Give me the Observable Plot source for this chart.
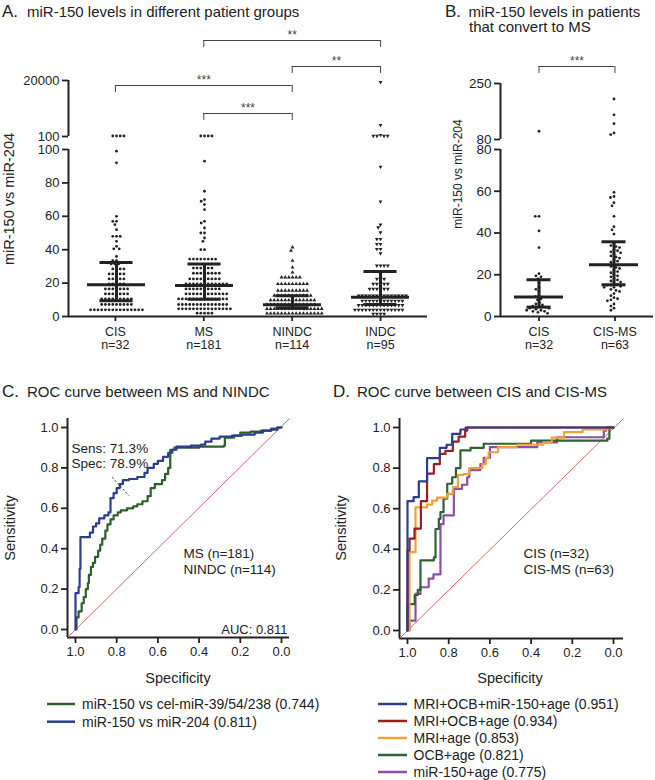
<!DOCTYPE html>
<html><head><meta charset="utf-8">
<script src="https://cdn.jsdelivr.net/npm/d3@7"></script>
<script src="https://cdn.jsdelivr.net/npm/@observablehq/plot@0.6"></script>
<style>
body{margin:0;background:#fff;}
#root{position:relative;width:655px;height:780px;overflow:hidden;background:#fff;}
g[aria-label="y-axis tick"] path, g[aria-label="x-axis tick"] path{stroke-width:1.8px;}
</style></head><body><div id="root"></div>
<script>
// ---------------- DATA ----------------
// Panel A
const groupsA = ["CIS", "MS", "NINDC", "INDC"];
const nA = [32, 181, 114, 95];
const cisA = [99, 92, 60, 57, 57, 55, 52, 48, 48, 48, 45, 42, 40.5, 40.5, 36, 33.5, 33.5, 31.5, 31.5, 31.5,
  28.5, 28.5, 28.5, 28.5, 25.5, 25.5, 25.5, 25.5, 25.5, 22.5, 22.5, 22.5, 22.5, 22.5, 19.5, 19.5, 19.5, 19.5, 19.5,
  16.5, 16.5, 16.5, 16.5, 16.5, 16.5, 16.5, 13.5, 13.5, 13.5, 13.5, 13.5, 13.5, 13.5,
  10.5, 10.5, 10.5, 10.5, 10.5, 10.5, 10.5, 10.5, 10.5, 7.2, 7.2, 7.2, 7.2, 7.2, 7.2, 7.2, 7.2, 7.2,
  4, 4, 4, 4, 4, 4, 4, 4, 4, 4, 4, 4, 4, 4, 4];
const msA = [93, 75, 70, 69, 67, 64, 57, 56, 53, 50, 50, 47, 45, 40, 40,
  34.4, 34.4, 34.4, 34.4, 34.4, 34.4, 34.4, 34.4, 29, 29, 29, 29, 29, 29,
  25.9, 25.9, 25.9, 25.9, 25.9, 25.9, 25.9, 25.9, 22.5, 22.5, 22.5, 22.5, 22.5, 22.5, 22.5, 22.5, 22.5,
  19.5, 19.5, 19.5, 19.5, 19.5, 19.5, 19.5, 19.5, 19.5, 19.5, 19.5, 19.5,
  16.5, 16.5, 16.5, 16.5, 16.5, 16.5, 16.5, 16.5, 16.5, 16.5,
  13.5, 13.5, 13.5, 13.5, 13.5, 13.5, 13.5, 13.5, 13.5, 13.5, 13.5, 13.5,
  10.5, 10.5, 10.5, 10.5, 10.5, 10.5, 10.5, 10.5, 10.5, 10.5, 10.5, 10.5, 10.5, 10.5,
  7.2, 7.2, 7.2, 7.2, 7.2, 7.2, 7.2, 7.2, 7.2, 7.2, 7.2, 7.2, 7.2, 7.2,
  4.6, 4.6, 4.6, 4.6, 4.6, 4.6, 4.6, 4.6, 4.6, 4.6, 4.6, 4.6, 4.6, 4.6, 4.6, 2, 2, 2, 2, 2];
const nindcA = [41.4, 39.4, 33.4, 29.4, 26.4, 23.5, 23.5, 23.5, 23.5, 23.5, 23.5,
  19.5, 19.5, 19.5, 19.5, 19.5, 19.5, 19.5, 19.5, 19.5, 15.5, 15.5, 15.5, 15.5, 15.5, 15.5, 15.5, 15.5, 15.5,
  12.5, 12.5, 12.5, 12.5, 12.5, 12.5, 12.5, 12.5, 12.5, 12.5, 12.5,
  9.8, 9.8, 9.8, 9.8, 9.8, 9.8, 9.8, 9.8, 9.8, 9.8, 9.8, 9.8, 9.8,
  7.2, 7.2, 7.2, 7.2, 7.2, 7.2, 7.2, 7.2, 7.2, 7.2, 7.2, 7.2, 7.2, 7.2,
  4.6, 4.6, 4.6, 4.6, 4.6, 4.6, 4.6, 4.6, 4.6, 4.6, 4.6, 4.6, 4.6, 4.6, 4.6, 4.6,
  1.8, 1.8, 1.8, 1.8, 1.8, 1.8, 1.8, 1.8, 1.8, 1.8, 1.8, 1.8, 1.8, 1.8, 1.8, 1.8];
const indcA = [89.6, 68.8, 55, 53.3, 50.3, 46.4, 46.4, 43.4, 43.4, 40.4, 40.4, 37.8, 30.4, 30.4, 30.4, 30.4, 25.5,
  22.5, 22.5, 22.5, 19.5, 19.5, 19.5, 19.5, 19.5, 16.5, 16.5, 16.5, 16.5, 16.5, 16.5,
  12.5, 12.5, 12.5, 12.5, 12.5, 12.5, 12.5, 12.5, 12.5, 12.5, 12.5, 12.5, 12.5, 12.5,
  9.4, 9.4, 9.4, 9.4, 9.4, 9.4, 9.4, 9.4, 9.4, 9.4, 9.4, 9.4,
  6.8, 6.8, 6.8, 6.8, 6.8, 6.8, 6.8, 6.8, 6.8, 6.8, 6.8, 6.8, 6.8,
  4, 4, 4, 4, 4, 4, 4, 4, 4, 4, 4, 4, 4, 4, 1.6, 1.6, 1.6, 1.6];
const cisAHigh = [105, 105, 105, 105];
const msAHigh = [105, 105, 105, 105];
const nindcAHigh = [];
const indcAHigh = [17000, 290, 115, 105, 105, 105, 105];
const medianA = [19, 18.5, 7, 11.5];
const q1A = [9.5, 10.3, 5.2, 7.2];
const q3A = [32.4, 31.4, 12.5, 27];
const compA = [["CIS", "NINDC", "***"], ["MS", "NINDC", "***"], ["MS", "INDC", "**"], ["NINDC", "INDC", "**"]];
const ticksALow = [0, 20, 40, 60, 80, 100];
const ticksAHigh = [100, 20000];

// Panel B
const groupsB = ["CIS", "CIS-MS"];
const nB = [32, 63];
const cisB = [48, 48, 41, 33, 20.5, 19.5, 19, 18, 16, 14, 13, 12, 10, 9.5, 8.5, 8, 6.5, 6, 5.5, 5, 4.5, 4.5, 4, 4, 3.5, 3, 3, 2.5, 2.5, 2, 1.5];
const cismsB = [59.5, 57.5, 57, 54.5, 53, 48, 43, 41.5, 39.5, 35, 34, 33.5, 33, 32, 31.5, 31, 30.5, 30, 29, 28.5, 28, 27, 26.5, 26, 25, 24, 23.5, 23, 22, 21.5, 21, 20, 19.5, 19, 18, 17.5, 17, 16.5, 16, 15.5, 15, 15, 14.5, 14, 14, 13, 12.5, 12, 11, 10, 9, 8.5, 8, 7.5, 6, 5, 4, 3];
const cisBHigh = [105];
const cismsBHigh = [203, 155, 128, 100, 95];
const medianB = [9.3, 24.8];
const q1B = [4.5, 15.2];
const q3B = [17.6, 35.8];
const compB = [["CIS", "CIS-MS", "***"]];
const ticksBLow = [0, 20, 40, 60, 80];
const ticksBHigh = [80, 250];

// Panel C : ROC points [specificity, sensitivity]
const rocC_cel = [[1.0,0],[0.995,0.06],[0.985,0.09],[0.97,0.13],[0.96,0.16],[0.95,0.2],[0.94,0.23],[0.935,0.27],[0.925,0.31],[0.915,0.33],[0.905,0.36],[0.89,0.39],[0.88,0.42],[0.87,0.45],[0.855,0.49],[0.845,0.52],[0.83,0.545],[0.815,0.565],[0.795,0.58],[0.78,0.59],[0.75,0.60],[0.72,0.61],[0.70,0.62],[0.675,0.635],[0.65,0.66],[0.635,0.70],[0.615,0.72],[0.58,0.74],[0.565,0.77],[0.55,0.80],[0.54,0.89],[0.52,0.90],[0.40,0.905],[0.28,0.91],[0.275,0.95],[0.23,0.96],[0.20,0.975],[0.15,0.98],[0.10,0.985],[0.05,0.995],[0.02,1.0],[0.0,1.0]];
const rocC_204 = [[1.0,0],[1.0,0.18],[0.985,0.21],[0.98,0.30],[0.976,0.457],[0.93,0.48],[0.915,0.51],[0.90,0.525],[0.885,0.55],[0.86,0.565],[0.84,0.58],[0.83,0.65],[0.815,0.675],[0.80,0.70],[0.785,0.72],[0.77,0.74],[0.74,0.745],[0.70,0.755],[0.665,0.775],[0.65,0.80],[0.62,0.82],[0.60,0.835],[0.575,0.855],[0.55,0.875],[0.53,0.89],[0.51,0.905],[0.44,0.91],[0.39,0.915],[0.37,0.93],[0.34,0.945],[0.30,0.955],[0.24,0.96],[0.19,0.965],[0.13,0.975],[0.09,0.985],[0.05,0.99],[0.02,1.0],[0.0,1.0]];
const legendC = ["miR-150 vs cel-miR-39/54/238 (0.744)", "miR-150 vs miR-204 (0.811)"];
const cutoffC = {spec: 0.789, sens: 0.713};
const cutoffTextC = "Sens: 71.3%\nSpec: 78.9%";
const groupsTextC = "MS (n=181)\nNINDC (n=114)";
const aucTextC = "AUC: 0.811";

// Panel D
const rocD_all = [[1.0,0],[1.0,0.637],[0.97,0.657],[0.945,0.735],[0.905,0.849],[0.843,0.90],[0.81,0.915],[0.783,0.969],[0.743,0.99],[0.718,1.0],[0.0,1.0]];
const rocD_mriOcb = [[1.0,0],[1.0,0.394],[0.99,0.453],[0.966,0.502],[0.935,0.637],[0.905,0.773],[0.872,0.82],[0.843,0.87],[0.816,0.885],[0.78,0.93],[0.752,0.955],[0.72,0.985],[0.71,1.0],[0.0,1.0]];
const rocD_mri = [[1.0,0],[0.99,0.386],[0.961,0.607],[0.905,0.62],[0.88,0.64],[0.856,0.655],[0.807,0.673],[0.78,0.706],[0.755,0.767],[0.727,0.77],[0.70,0.80],[0.637,0.82],[0.62,0.849],[0.606,0.878],[0.56,0.903],[0.47,0.915],[0.34,0.927],[0.30,0.95],[0.24,0.977],[0.15,0.99],[0.03,1.0],[0.0,1.0]];
const rocD_ocb = [[1.0,0],[1.0,0.13],[0.965,0.175],[0.95,0.20],[0.937,0.345],[0.872,0.36],[0.864,0.50],[0.848,0.55],[0.84,0.583],[0.825,0.65],[0.807,0.723],[0.783,0.755],[0.765,0.80],[0.743,0.887],[0.694,0.90],[0.63,0.92],[0.40,0.935],[0.03,0.945],[0.02,1.0],[0.0,1.0]];
const rocD_mir = [[1.0,0],[0.99,0.049],[0.961,0.18],[0.937,0.213],[0.897,0.256],[0.874,0.276],[0.84,0.524],[0.825,0.567],[0.775,0.698],[0.735,0.718],[0.71,0.755],[0.70,0.79],[0.646,0.82],[0.63,0.85],[0.60,0.903],[0.37,0.927],[0.273,0.952],[0.047,0.985],[0.035,1.0],[0.0,1.0]];
const legendD = ["MRI+OCB+miR-150+age (0.951)", "MRI+OCB+age (0.934)", "MRI+age (0.853)", "OCB+age (0.821)", "miR-150+age (0.775)"];
const groupsTextD = "CIS (n=32)\nCIS-MS (n=63)";
const rocTicks = [1.0, 0.8, 0.6, 0.4, 0.2, 0.0];

// ---------------- STYLE / LAYOUT ----------------
const W = 655, H = 780;
const FONT = "'Liberation Sans', Arial, Helvetica, sans-serif";
const INK = "#222";
const AXW = 2;
const colorsC = ["#2f5f2a", "#2b3d90"];
const colorsD = ["#2b3d90", "#9c1c22", "#efa234", "#2f6233", "#8b4fa6"];
const RED = "#d9534f";
const styleFor = (fs) => `background: transparent; overflow: visible; font-family: ${FONT}; font-size: ${fs}px; color: ${INK};`;

const root = document.getElementById("root");
function add(node) { node.style.position = "absolute"; node.style.left = "0px"; node.style.top = "0px"; root.appendChild(node); }
function base(f, fs, extra) {
  return Object.assign({width: W, height: H, marginLeft: f.l, marginRight: W - f.r, marginTop: f.t, marginBottom: H - f.b, style: styleFor(fs)}, extra);
}
function bandGeom(n, left, right, pi, po) {
  const step = (right - left) / (n - pi + 2 * po);
  const c0 = left + step * (po + (1 - pi) / 2);
  return {step, c0, bw: step * (1 - pi), idxMin: (left - c0) / step, idxMax: (right - c0) / step, pi, po};
}
const sqrt3 = Math.sqrt(3);
const triangleDown = {draw(context, size) { const y = -Math.sqrt(size / (sqrt3 * 3)); context.moveTo(0, -y * 2); context.lineTo(-sqrt3 * y, y); context.lineTo(sqrt3 * y, y); context.closePath(); }};

// ---------------- SWARM PANEL BUILDER ----------------
function swarmPanel(cfg) {
  const {groups, ns, low, high, med, q1, q3, comps, levels, g, fLow, fHigh, fBr, yLow, yHigh, ticksLow, ticksHigh, highType, fs, capInset, symbols} = cfg;
  const dotsLow = groups.flatMap((gr, i) => low[i].map(v => ({group: gr, v})));
  const dotsHigh = groups.flatMap((gr, i) => high[i].map(v => ({group: gr, v})));
  const stats = groups.map((gr, i) => ({group: gr, median: med[i], q1: q1[i], q3: q3[i]}));
  const fx = {domain: groups, paddingInner: g.pi, paddingOuter: g.po, axis: null, label: null};

  const dotMarks = (data) => groups.map((gr, i) => {
    const s = symbols[i];
    return Plot.dot(data.filter(d => d.group === gr), Plot.dodgeX({anchor: "middle", padding: s.pad}, {fx: "group", y: "v", r: s.r, symbol: s.symbol, fill: INK, stroke: "none"}));
  });

  add(Plot.plot(base(fLow, fs, {
    x: {type: "linear", domain: [g.idxMin, g.idxMax], ticks: groups.map((_, i) => i), tickFormat: () => "", tickSize: 5, label: null},
    y: {domain: yLow, ticks: ticksLow, tickSize: 6, label: null},
    marks: [
      Plot.ruleY([yLow[0]], {stroke: INK, strokeWidth: AXW}),
      Plot.ruleX([g.idxMin], {y1: yLow[0], y2: yLow[1], stroke: INK, strokeWidth: AXW}),
      Plot.text(groups.map((gr, i) => ({i, label: gr + "\nn=" + ns[i]})), {x: "i", text: "label", frameAnchor: "bottom", dy: 21.5, lineAnchor: "middle", lineHeight: 1.05, fontSize: 12.5, fill: INK})
    ]
  })));
  add(Plot.plot(base(fLow, fs, {
    fx, x: {axis: null}, y: {domain: yLow, axis: null},
    marks: [
      ...dotMarks(dotsLow),
      Plot.tickY(stats, {fx: "group", y: "median", stroke: INK, strokeWidth: 3}),
      Plot.tickY(stats, {fx: "group", y: "q1", stroke: INK, strokeWidth: 3, insetLeft: capInset, insetRight: capInset}),
      Plot.tickY(stats, {fx: "group", y: "q3", stroke: INK, strokeWidth: 3, insetLeft: capInset, insetRight: capInset}),
      Plot.ruleX(stats, {x: null, fx: "group", y1: "q1", y2: "q3", stroke: INK, strokeWidth: 3})
    ]
  })));
  add(Plot.plot(base(fHigh, fs, {
    x: {type: "linear", domain: [g.idxMin, g.idxMax], axis: null},
    y: {type: highType, domain: yHigh, ticks: ticksHigh, tickFormat: d => String(d), tickSize: 6, label: null},
    marks: [Plot.ruleX([g.idxMin], {y1: yHigh[0], y2: yHigh[1], stroke: INK, strokeWidth: AXW})]
  })));
  if (dotsHigh.length) add(Plot.plot(base(fHigh, fs, {
    fx, x: {axis: null}, y: {type: highType, domain: yHigh, axis: null},
    marks: dotMarks(dotsHigh)
  })));
  const idx = (name) => groups.indexOf(name);
  const br = comps.map((c, k) => ({ia: idx(c[0]), ib: idx(c[1]), sig: c[2], lvl: levels[k]}));
  const ends = br.flatMap(b => [{i: b.ia, lvl: b.lvl}, {i: b.ib, lvl: b.lvl}]);
  add(Plot.plot(base(fBr, fs, {
    x: {type: "linear", domain: [g.idxMin, g.idxMax], axis: null},
    y: {domain: [0, fBr.b - fBr.t], axis: null},
    marks: [
      Plot.ruleY(br, {x1: "ia", x2: "ib", y: "lvl", stroke: "#444", strokeWidth: 1}),
      Plot.ruleX(ends, {x: "i", y1: "lvl", y2: d => d.lvl - 7, stroke: "#444", strokeWidth: 1}),
      Plot.text(br, {x: d => (d.ia + d.ib) / 2, y: "lvl", text: "sig", lineAnchor: "bottom", dy: -1.5, fontSize: 12, fill: "#444"})
    ]
  })));
}

const dotSym = {symbol: "circle", r: 1.4, pad: 0.9};
const upSym = {symbol: "triangle", r: 1.45, pad: 0.75};
const downSym = {symbol: triangleDown, r: 1.45, pad: 0.75};

const gA = bandGeom(4, 68, 427, 0.345, 0.203);
swarmPanel({
  groups: groupsA, ns: nA, low: [cisA, msA, nindcA, indcA], high: [cisAHigh, msAHigh, nindcAHigh, indcAHigh],
  med: medianA, q1: q1A, q3: q3A, comps: compA, levels: [35, 7, 80, 54], g: gA,
  fLow: {l: 68, r: 427, t: 149, b: 316}, fHigh: {l: 68, r: 427, t: 80, b: 136}, fBr: {l: 68, r: 427, t: 30, b: 120},
  yLow: [0, 100], yHigh: [100, 20000], ticksLow: ticksALow, ticksHigh: ticksAHigh, highType: "log", fs: 13,
  capInset: (gA.bw - 33) / 2, symbols: [dotSym, dotSym, upSym, downSym]
});
const gB = bandGeom(2, 500, 653, 0.342, 0.178);
swarmPanel({
  groups: groupsB, ns: nB, low: [cisB, cismsB], high: [cisBHigh, cismsBHigh],
  med: medianB, q1: q1B, q3: q3B, comps: compB, levels: [54], g: gB,
  fLow: {l: 500, r: 653, t: 149, b: 316}, fHigh: {l: 500, r: 653, t: 83, b: 139}, fBr: {l: 500, r: 653, t: 30, b: 120},
  yLow: [0, 80], yHigh: [80, 250], ticksLow: ticksBLow, ticksHigh: ticksBHigh, highType: "linear", fs: 13.5,
  capInset: (gB.bw - 25) / 2, symbols: [dotSym, dotSym]
});

// ---------------- ROC PANELS ----------------
function rocPanel(cfg) {
  const {f, xd, yd, curves, colors, texts, extra} = cfg;
  const marks = [
    Plot.ruleX([xd[0]], {stroke: INK, strokeWidth: AXW}),
    Plot.ruleY([yd[0]], {stroke: INK, strokeWidth: AXW}),
    Plot.link([{x1: xd[0], y1: yd[0], x2: xd[1], y2: yd[1]}], {x1: "x1", y1: "y1", x2: "x2", y2: "y2", stroke: RED, strokeWidth: 0.9}),
    ...curves.map((c, i) => Plot.line(c, {x: d => d[0], y: d => d[1], curve: "step-after", stroke: colors[i], strokeWidth: 2.2})),
    ...texts.map(t => Plot.text([t], {x: "x", y: "y", text: "text", textAnchor: t.anchor, lineAnchor: "middle", lineHeight: t.lh, fontSize: t.fs, fill: INK})),
    ...(extra || [])
  ];
  add(Plot.plot(base(f, 13, {
    x: {domain: xd, ticks: rocTicks, tickFormat: d3.format(".1f"), tickSize: 6, label: null},
    y: {domain: yd, ticks: rocTicks, tickFormat: d3.format(".1f"), tickSize: 6, label: null},
    marks
  })));
}

rocPanel({
  f: {l: 67, r: 289, t: 418, b: 637}, xd: [1.0388, -0.0388], yd: [-0.0396, 1.0446],
  curves: [rocC_cel, rocC_204], colors: colorsC,
  texts: [
    {x: 1.019, y: 0.859, text: cutoffTextC, anchor: "start", lh: 1.11, fs: 13.5},
    {x: 0.476, y: 0.34, text: groupsTextC, anchor: "start", lh: 1.18, fs: 13.5},
    {x: -0.029, y: 0.0, text: aucTextC, anchor: "end", lh: 1, fs: 13}
  ],
  extra: [Plot.link([cutoffC], {x1: d => d.spec + 0.033, y1: d => d.sens + 0.041, x2: d => d.spec - 0.048, y2: d => d.sens - 0.05, stroke: "#333", strokeWidth: 1, strokeDasharray: "2,2"})]
});
rocPanel({
  f: {l: 399, r: 623, t: 418, b: 638}, xd: [1.0388, -0.0485], yd: [-0.0394, 1.0443],
  curves: [rocD_mir, rocD_ocb, rocD_mri, rocD_mriOcb, rocD_all], colors: [colorsD[4], colorsD[3], colorsD[2], colorsD[1], colorsD[0]],
  texts: [{x: 0.437, y: 0.343, text: groupsTextD, anchor: "start", lh: 1.18, fs: 13.5}]
});

// ---------------- TEXT OVERLAY (titles, axis labels, legends) ----------------
const svg = d3.create("svg").attr("width", W).attr("height", H).style("font-family", FONT).style("overflow", "visible");
function txt(x, y, s, size, opts = {}) {
  const t = svg.append("text").attr("x", x).attr("y", y).attr("font-size", size).attr("fill", opts.fill || INK).text(s);
  if (opts.anchor) t.attr("text-anchor", opts.anchor);
  if (opts.rotate) t.attr("transform", `rotate(-90 ${x} ${y})`);
  return t;
}
txt(2, 17, "A.", 17); txt(27, 17, "miR-150 levels in different patient groups", 15);
txt(445, 17, "B.", 17); txt(468.5, 17, "miR-150 levels in patients", 15); txt(469, 32, "that convert to MS", 15);
txt(2, 397, "C.", 17); txt(27, 397, "ROC curve between MS and NINDC", 15);
txt(333, 397, "D.", 17); txt(357, 397, "ROC curve between CIS and CIS-MS", 15);
txt(13.5, 199, "miR-150 vs miR-204", 14.5, {anchor: "middle", rotate: true});
txt(461.5, 174, "miR-150 vs miR-204", 12, {anchor: "middle", rotate: true});
txt(14.5, 528, "Sensitivity", 14.5, {anchor: "middle", rotate: true});
txt(345.5, 528, "Sensitivity", 14.5, {anchor: "middle", rotate: true});
txt(178, 683, "Specificity", 14.5, {anchor: "middle"});
txt(510, 683, "Specificity", 14.5, {anchor: "middle"});
const legCY = [704, 721.7];
legendC.forEach((s, i) => {
  svg.append("line").attr("x1", 47).attr("x2", 75).attr("y1", legCY[i]).attr("y2", legCY[i]).attr("stroke", colorsC[i]).attr("stroke-width", 2.5);
  txt(82, legCY[i] + 5, s, 14);
});
const legDY = [704, 721, 738, 755, 772];
legendD.forEach((s, i) => {
  svg.append("line").attr("x1", 378).attr("x2", 407).attr("y1", legDY[i]).attr("y2", legDY[i]).attr("stroke", colorsD[i]).attr("stroke-width", 2.5);
  txt(413.5, legDY[i] + 5, s, 14);
});
add(svg.node());
</script></body></html>
